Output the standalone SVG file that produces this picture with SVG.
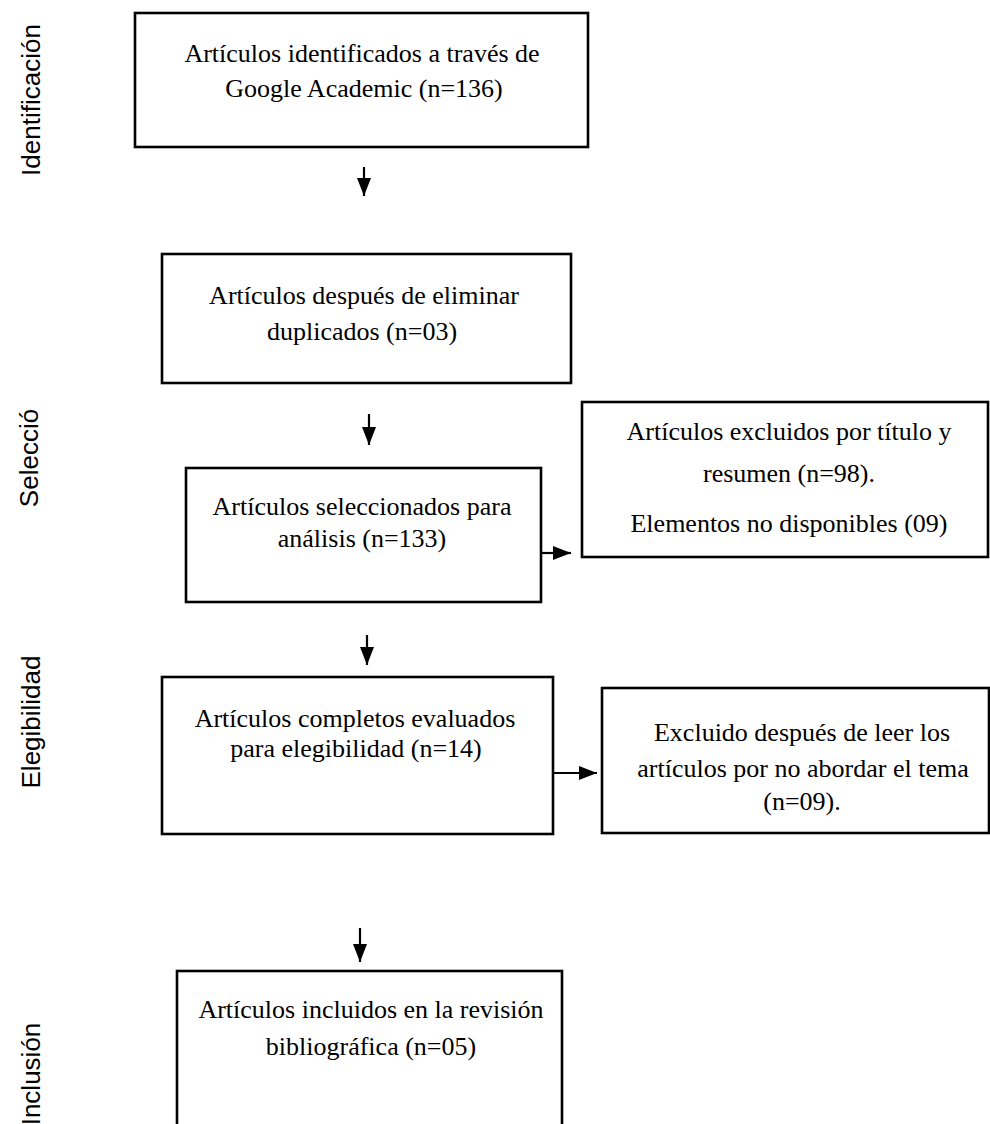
<svg xmlns="http://www.w3.org/2000/svg" width="990" height="1124" viewBox="0 0 990 1124">
<style>
.box{fill:#fff;stroke:#000;stroke-width:2.6}
.t{font-family:"Liberation Serif","Times New Roman",serif;font-size:26px;fill:#000;text-anchor:middle}
.side{font-family:"Liberation Sans",Arial,sans-serif;font-size:26px;fill:#000;text-anchor:middle}
.conn line{stroke:#000;stroke-width:2.2;marker-end:url(#ah)}
</style>
<defs>
<marker id="ah" markerUnits="userSpaceOnUse" markerWidth="18" markerHeight="14" refX="18" refY="7" orient="auto">
<path d="M0,0 L18,7 L0,14 z" fill="#000"/>
</marker>
</defs>
<rect width="990" height="1124" fill="#fff"/>
<g id="labels">
<text class="side" transform="translate(40,100) rotate(-90)">Identificación</text>
<text class="side" transform="translate(38,458) rotate(-90)">Selecció</text>
<text class="side" transform="translate(40,722) rotate(-90)">Elegibilidad</text>
<text class="side" transform="translate(40,1074) rotate(-90)">Inclusión</text>
</g>
<g id="n1">
<rect class="box" x="135" y="13" width="453" height="134"/>
<text class="t" x="362" y="62">Artículos identificados a través de</text>
<text class="t" x="364" y="97">Google Academic (n=136)</text>
</g>
<g id="n2">
<rect class="box" x="162" y="254" width="409" height="129"/>
<text class="t" x="364" y="304">Artículos después de eliminar</text>
<text class="t" x="362" y="340">duplicados (n=03)</text>
</g>
<g id="n3">
<rect class="box" x="186" y="468" width="355" height="134"/>
<text class="t" x="362" y="515">Artículos seleccionados para</text>
<text class="t" x="362" y="547">análisis (n=133)</text>
</g>
<g id="n4">
<rect class="box" x="582" y="402" width="406" height="155"/>
<text class="t" x="789" y="440">Artículos excluidos por título y</text>
<text class="t" x="789" y="482">resumen (n=98).</text>
<text class="t" x="789" y="532">Elementos no disponibles (09)</text>
</g>
<g id="n5">
<rect class="box" x="162" y="677" width="391" height="157"/>
<text class="t" x="355" y="727">Artículos completos evaluados</text>
<text class="t" x="356" y="757">para elegibilidad (n=14)</text>
</g>
<g id="n6">
<rect class="box" x="602" y="688" width="387" height="145"/>
<text class="t" x="802" y="741">Excluido después de leer los</text>
<text class="t" x="803" y="777">artículos por no abordar el tema</text>
<text class="t" x="802" y="810">(n=09).</text>
</g>
<g id="n7">
<rect class="box" x="177" y="971" width="385" height="170"/>
<text class="t" x="371" y="1018">Artículos incluidos en la revisión</text>
<text class="t" x="371" y="1055">bibliográfica (n=05)</text>
</g>
<g id="connectors" class="conn">
<line x1="364" y1="167" x2="364" y2="196"/>
<line x1="369" y1="414" x2="369" y2="445"/>
<line x1="367" y1="635" x2="367" y2="665"/>
<line x1="360" y1="928" x2="360" y2="962"/>
<line x1="541" y1="553" x2="571" y2="553"/>
<line x1="553" y1="773" x2="597" y2="773"/>
</g>
</svg>
